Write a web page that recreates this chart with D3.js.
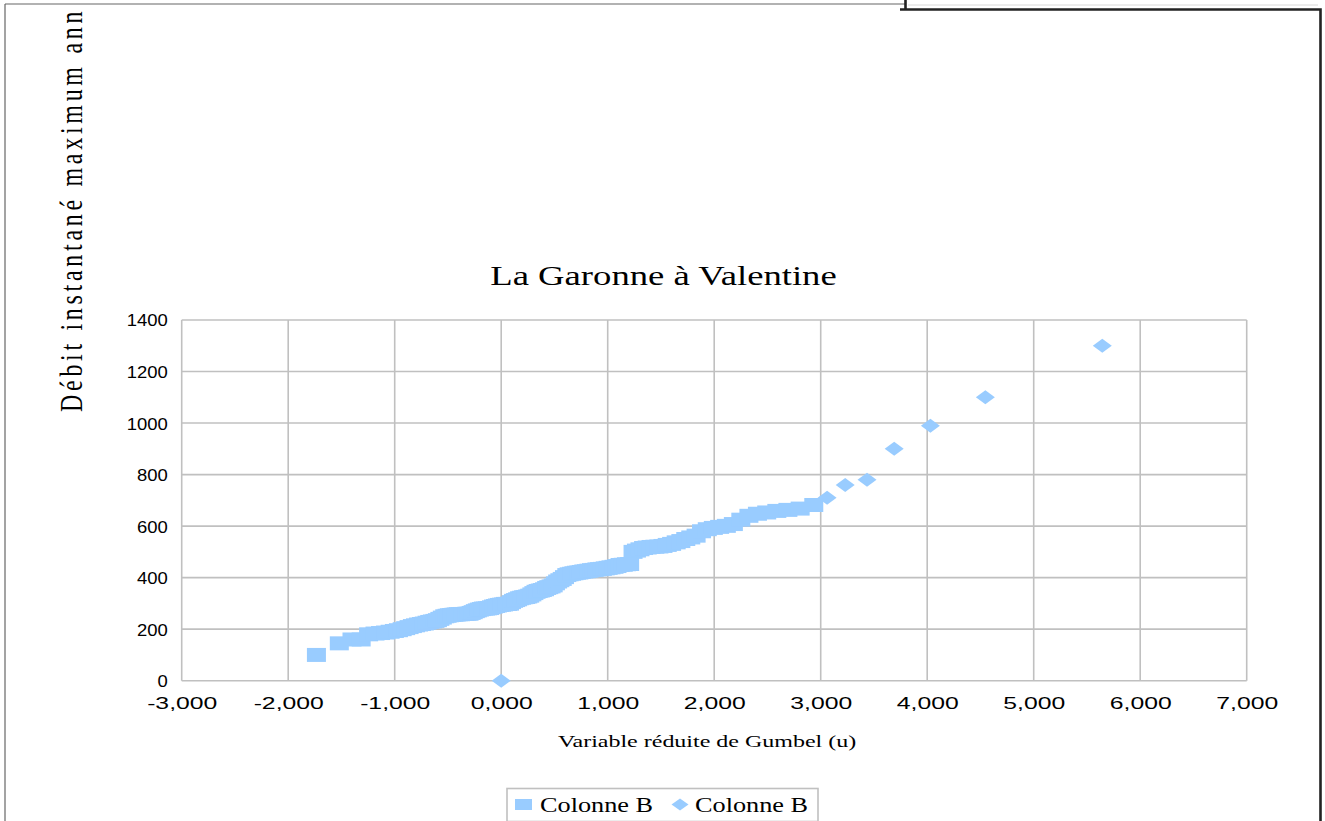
<!DOCTYPE html>
<html><head><meta charset="utf-8">
<script src="https://cdn.jsdelivr.net/npm/d3@7"></script>
<style>body{margin:0;background:#fff}svg{display:block}</style>
</head><body>
<svg id="chart" width="1325" height="821"></svg>
<script>
// Gumbel reduced variate (u) and annual maximum discharge, ranked sample
const uSquares = [
-1.735,-1.520,-1.401,-1.315,-1.245,-1.185,-1.133,-1.086,-1.043,-1.003,
-0.965,-0.930,-0.897,-0.865,-0.834,-0.805,-0.776,-0.749,-0.722,-0.696,
-0.671,-0.646,-0.622,-0.599,-0.576,-0.553,-0.530,-0.508,-0.487,-0.465,
-0.444,-0.423,-0.403,-0.382,-0.362,-0.342,-0.322,-0.302,-0.282,-0.263,
-0.243,-0.224,-0.205,-0.186,-0.167,-0.148,-0.129,-0.110,-0.091,-0.072,
-0.053,-0.035,-0.016,0.003,0.022,0.040,0.059,0.078,0.097,0.116,
0.135,0.154,0.173,0.192,0.211,0.230,0.249,0.268,0.288,0.307,
0.327,0.347,0.367,0.386,0.407,0.427,0.447,0.468,0.488,0.509,
0.530,0.551,0.573,0.594,0.616,0.638,0.661,0.683,0.706,0.729,
0.752,0.776,0.800,0.824,0.848,0.873,0.899,0.924,0.950,0.977,
1.004,1.031,1.059,1.087,1.116,1.146,1.176,1.206,1.238,1.270,
1.303,1.337,1.371,1.407,1.443,1.481,1.519,1.559,1.600,1.643,
1.687,1.733,1.780,1.830,1.881,1.935,1.992,2.051,2.114,2.180,
2.250,2.326,2.406,2.493,2.588,2.692,2.807,2.935];
const qSquares = [
100,145,160,160,180,183,185,187,190,193,
196,200,204,208,212,215,218,220,222,225,
228,230,232,235,240,245,250,252,254,255,
256,257,258,258,259,259,260,260,263,266,
270,273,276,278,280,280,281,282,285,288,
290,292,294,295,296,298,298,299,305,310,
313,316,320,322,324,325,327,330,335,340,
345,348,350,352,355,360,363,366,370,378,
385,390,395,402,410,413,415,417,419,420,
422,424,425,427,429,430,432,433,434,436,
438,440,442,445,449,450,452,453,500,505,
510,515,517,519,520,521,523,527,531,537,
542,550,556,563,580,588,593,597,601,608,
625,640,648,653,659,663,668,682];
const uDiamonds = [0, 3.06, 3.23, 3.435, 3.69, 4.03, 4.546, 5.644];
const qDiamonds = [0, 710, 760, 780, 900, 990, 1100, 1300];

const xTicks = [-3,-2,-1,0,1,2,3,4,5,6,7];
const yTicks = [0,200,400,600,800,1000,1200,1400];
const seriesNames = ["Colonne B","Colonne B"];
const chartTitle = "La Garonne à Valentine";
const xTitle = "Variable réduite de Gumbel (u)";
const yTitle = "Débit instantané maximum ann";

const MARKER = "#99ccff", GRID = "#c0c0c0";
const SERIF = "'Liberation Serif','Times New Roman',serif";
const SANS = "'Liberation Sans',Arial,sans-serif";

const svg = d3.select("#chart");
const x = d3.scaleLinear().domain([-3, 7]).range([181.7, 1246.7]);
const y = d3.scaleLinear().domain([0, 1400]).range([680.7, 320]);
const fr = d3.formatLocale({decimal: ",", thousands: " ", grouping: [3], currency: ["", " €"], minus: "-"});
const fmtX = fr.format(".3f");

// page frame
const frame = svg.append("g").attr("fill", "none");
frame.append("line").attr("x1", 5).attr("y1", 4).attr("x2", 905).attr("y2", 4).attr("stroke", "#666").attr("stroke-width", 1.2);
frame.append("line").attr("x1", 5).attr("y1", 4).attr("x2", 5).attr("y2", 821).attr("stroke", "#666").attr("stroke-width", 1.2);
frame.append("line").attr("x1", 908).attr("y1", 5).attr("x2", 1318).attr("y2", 5).attr("stroke", "#d8d8d8").attr("stroke-width", 1);
frame.append("path").attr("d", "M900,9.5H1320.5V821M905.5,0V9.5").attr("stroke", "#222").attr("stroke-width", 2.6);

// gridlines
const grid = svg.append("g").attr("stroke", GRID).attr("stroke-width", 1.6);
grid.selectAll(".v").data(xTicks).join("line")
  .attr("x1", d => x(d)).attr("x2", d => x(d)).attr("y1", y(1400)).attr("y2", y(0));
grid.selectAll(".h").data(yTicks).join("line")
  .attr("x1", x(-3)).attr("x2", x(7)).attr("y1", d => y(d)).attr("y2", d => y(d));

// axes labels
const gx = svg.append("g").attr("transform", `translate(0,${y(0)})`)
  .call(d3.axisBottom(x).tickValues(xTicks).tickFormat(fmtX).tickSize(0).tickPadding(0));
gx.select(".domain").remove();
gx.selectAll("text").attr("dy", null).attr("y", 28.5).attr("x", 0)
  .attr("font-family", SANS).attr("font-size", 16.5).attr("fill", "#000")
  .attr("transform", "scale(1.5,1)");

const gy = svg.append("g").attr("transform", `translate(${x(-3)},0)`)
  .call(d3.axisLeft(y).tickValues(yTicks).tickFormat(d3.format("d")).tickSize(0).tickPadding(0));
gy.select(".domain").remove();
gy.selectAll("text").attr("dy", "0.36em").attr("x", -12.5)
  .attr("font-family", SANS).attr("font-size", 16.5).attr("fill", "#000")
  .attr("transform", "scale(1.12,1)");

// series
const squares = uSquares.map((u, i) => ({u, q: qSquares[i]}));
const diamonds = uDiamonds.map((u, i) => ({u, q: qDiamonds[i]}));
const MW = 19, MH = 14;
svg.append("g").attr("fill", MARKER).selectAll("rect").data(squares).join("rect")
  .attr("x", d => x(d.u) - MW / 2).attr("y", d => y(d.q) - MH / 2)
  .attr("width", MW).attr("height", MH);
const diamondPath = (cx, cy, w, h) => `M${cx},${cy - h/2}L${cx + w/2},${cy}L${cx},${cy + h/2}L${cx - w/2},${cy}Z`;
svg.append("g").attr("fill", MARKER).selectAll("path").data(diamonds).join("path")
  .attr("d", d => diamondPath(x(d.u), y(d.q), MW, MH));

// horizontally stretched text
function label(txt, tx, ty, size, sx, family, anchor, extra) {
  return svg.append("text")
    .attr("transform", `translate(${tx},${ty}) scale(${sx},1)` + (extra || ""))
    .attr("font-family", family).attr("font-size", size)
    .attr("text-anchor", anchor).attr("fill", "#000").text(txt);
}
label(chartTitle, 663.5, 285, 28, 1.31, SERIF, "middle");
label(xTitle, 707, 747, 16, 1.5, SERIF, "middle");
label(yTitle, 82, 412, 24, 1.3, SERIF, "start", " rotate(-90)").attr("letter-spacing", 3.7);

// legend
const lg = svg.append("g");
lg.append("rect").attr("x", 507).attr("y", 788.5).attr("width", 311).attr("height", 33)
  .attr("fill", "#fff").attr("stroke", GRID).attr("stroke-width", 1.6);
lg.append("rect").attr("x", 515).attr("y", 799).attr("width", 17).attr("height", 11).attr("fill", MARKER);
lg.append("path").attr("d", diamondPath(680, 804.5, 17, 12)).attr("fill", MARKER);
label(seriesNames[0], 540, 812, 21, 1.25, SERIF, "start");
label(seriesNames[1], 695, 812, 21, 1.25, SERIF, "start");
</script>
</body></html>
